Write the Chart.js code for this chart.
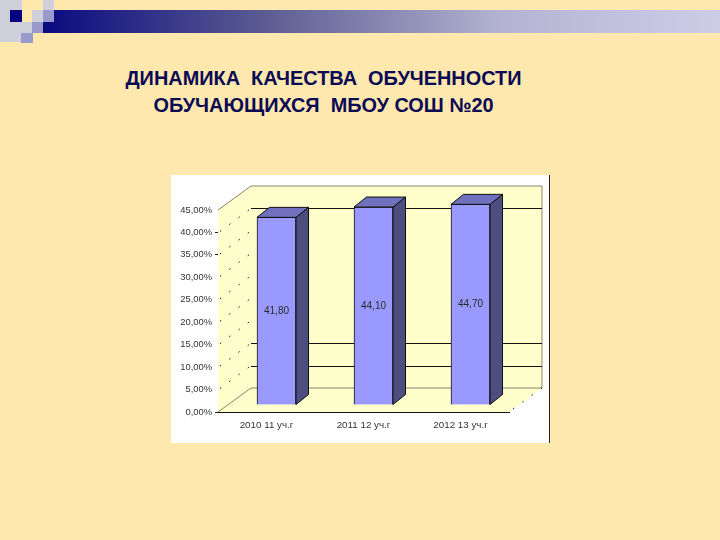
<!DOCTYPE html>
<html>
<head>
<meta charset="utf-8">
<title>Динамика качества обученности</title>
<script src="https://cdn.jsdelivr.net/npm/chart.js@4"></script>
<style>
  html, body { margin: 0; padding: 0; width: 720px; height: 540px; overflow: hidden; background: #FFE8AD; }
  .sq, #band, #title, #box { position: absolute; }
  #band { left: 43px; top: 10px; width: 677px; height: 23px; background: linear-gradient(to right, #0a0a80, #5c5c92 33%, #b4b4d2 68%, #cdcde8); }
  #title { left: 0; width: 647px; top: 65px; text-align: center; font: bold 19.9px/27px "Liberation Sans", Arial, sans-serif; color: #0a0a55; white-space: pre; }
  #box { left: 171px; top: 175px; width: 378px; height: 268px; background: #fff; border-right: 1px solid #222; }
  canvas { display: block; }
</style>
</head>
<body>
<div id="band"></div>
<div class="sq" style="left:0;top:0;width:22px;height:33px;background:#d0d0dc"></div>
<div class="sq" style="left:0;top:33px;width:21px;height:9px;background:#d0d0dc"></div>
<div class="sq" style="left:10px;top:10px;width:12px;height:12px;background:#000080"></div>
<div class="sq" style="left:43px;top:0;width:11px;height:10px;background:#d0d0dc"></div>
<div class="sq" style="left:32px;top:10px;width:11px;height:12px;background:#d0d0dc"></div>
<div class="sq" style="left:43px;top:10px;width:11px;height:12px;background:#9999cc"></div>
<div class="sq" style="left:22px;top:22px;width:10px;height:11px;background:#d0d0dc"></div>
<div class="sq" style="left:32px;top:22px;width:11px;height:11px;background:#9999cc"></div>
<div class="sq" style="left:21px;top:33px;width:12px;height:10px;background:#9999cc"></div>
<div id="title">ДИНАМИКА  КАЧЕСТВА  ОБУЧЕННОСТИ
ОБУЧАЮЩИХСЯ  МБОУ СОШ №20</div>
<div id="box"><canvas id="qualityChart" width="379" height="268"></canvas></div>
<script>
const categories = ['2010 11 уч.г', '2011 12 уч.г', '2012 13 уч.г'];
const qualityValues = [41.8, 44.1, 44.7];
const tickValues = [0, 5, 10, 15, 20, 25, 30, 35, 40, 45];
const wallLines = [5, 10, 40];
const markedTicks = [0, 35, 40];

// 3d look: how far the wall and the bars sit behind the front plane
const wall = { dx: 33, dy: -24 };
const barShift = { dx: 10, dy: -7 };
const barDepth = { dx: 12.5, dy: -10 };

const commaFmt = (v, digits) => v.toFixed(digits).replace('.', ',');

function poly(ctx, pts, fill, stroke) {
  ctx.beginPath();
  pts.forEach((p, i) => i ? ctx.lineTo(p[0], p[1]) : ctx.moveTo(p[0], p[1]));
  ctx.closePath();
  if (fill) { ctx.fillStyle = fill; ctx.fill(); }
  if (stroke) { ctx.strokeStyle = stroke; ctx.lineWidth = 1; ctx.stroke(); }
}

const wallPlugin = {
  id: 'wall',
  beforeDatasetsDraw(chart) {
    const ctx = chart.ctx;
    const y = chart.scales.y;
    const l = chart.chartArea.left, r = chart.chartArea.right;
    const y0 = y.getPixelForValue(0), yTop = y.getPixelForValue(45);
    const bl = l + wall.dx, br = r + wall.dx;

    ctx.save();
    poly(ctx, [[l, y0], [bl, y0 + wall.dy], [bl, yTop + wall.dy], [l, yTop]], '#FFFFCC');
    poly(ctx, [[bl, yTop + wall.dy], [br, yTop + wall.dy], [br, y0 + wall.dy], [bl, y0 + wall.dy]], '#FFFFCC');
    poly(ctx, [[l, y0], [bl, y0 + wall.dy], [br, y0 + wall.dy], [r, y0]], '#FFFFCC');

    // grey outline of the walls
    ctx.strokeStyle = '#85856b';
    ctx.lineWidth = 1;
    ctx.beginPath();
    ctx.moveTo(l, yTop);
    ctx.lineTo(bl, yTop + wall.dy);
    ctx.lineTo(br, yTop + wall.dy);
    ctx.lineTo(br, y0 + wall.dy);
    ctx.lineTo(bl, y0 + wall.dy);
    ctx.lineTo(l, y0);
    ctx.stroke();

    // gridlines on the back wall
    ctx.strokeStyle = '#111';
    wallLines.forEach(v => {
      const py = Math.round(y.getPixelForValue(v) + wall.dy) + 0.5;
      ctx.beginPath();
      ctx.moveTo(bl, py);
      ctx.lineTo(br, py);
      ctx.stroke();
    });

    // dotted gridlines on the side wall and floor edge
    ctx.setLineDash([1.5, 10]);
    ctx.strokeStyle = '#111';
    tickValues.slice(1, -1).forEach(v => {
      const py = y.getPixelForValue(v);
      ctx.beginPath();
      ctx.moveTo(l + 2, py - 1);
      ctx.lineTo(bl, py + wall.dy);
      ctx.stroke();
    });
    ctx.beginPath();
    ctx.moveTo(r + 4, y0 - 3);
    ctx.lineTo(br, y0 + wall.dy);
    ctx.stroke();
    ctx.restore();
  },
  beforeDatasetDraw(chart) {
    chart.ctx.save();
    chart.ctx.translate(barShift.dx, barShift.dy);
  },
  afterDatasetDraw(chart, args) {
    const ctx = chart.ctx;
    const bars = args.meta.data;
    const d = barDepth;
    bars.forEach((bar, i) => {
      const x1 = bar.x - bar.width / 2, x2 = bar.x + bar.width / 2;
      poly(ctx, [[x2, bar.y], [x2 + d.dx, bar.y + d.dy], [x2 + d.dx, bar.base + d.dy], [x2, bar.base]], '#4D4D80', '#111');
      poly(ctx, [[x1, bar.y], [x1 + d.dx, bar.y + d.dy], [x2 + d.dx, bar.y + d.dy], [x2, bar.y]], '#7070BE', '#111');
      ctx.fillStyle = '#2a2a2a';
      ctx.font = '10px "Liberation Sans", Arial, sans-serif';
      ctx.textAlign = 'center';
      ctx.textBaseline = 'middle';
      ctx.fillText(commaFmt(qualityValues[i], 2), bar.x, (bar.y + bar.base) / 2);
    });
    ctx.restore();
  }
};

new Chart(document.getElementById('qualityChart').getContext('2d'), {
  type: 'bar',
  data: {
    labels: categories,
    datasets: [{
      data: qualityValues,
      backgroundColor: '#9999FF',
      borderColor: '#111',
      borderWidth: { top: 1, left: 1, right: 1, bottom: 0 },
      borderSkipped: false,
      barThickness: 39,
      clip: false
    }]
  },
  options: {
    responsive: false,
    animation: false,
    devicePixelRatio: 1,
    layout: { padding: { top: 35, right: 41, left: 0, bottom: 0 } },
    plugins: { legend: { display: false }, tooltip: { enabled: false }, title: { display: false } },
    scales: {
      x: {
        grid: { display: false },
        border: { color: '#111', width: 1 },
        ticks: { color: '#333', maxRotation: 0, autoSkip: false, padding: -1, font: { family: '"Liberation Sans", Arial, sans-serif', size: 9.8 } },
        afterFit: s => { s.height = 31; }
      },
      y: {
        min: 0,
        max: 45,
        afterBuildTicks: s => { s.ticks = tickValues.map(v => ({ value: v })); },
        border: { display: false },
        grid: {
          drawOnChartArea: false,
          tickLength: 3,
          tickColor: c => markedTicks.includes(c.tick.value) ? '#222' : 'rgba(0,0,0,0)'
        },
        ticks: {
          color: '#333',
          padding: 3,
          font: { family: '"Liberation Sans", Arial, sans-serif', size: 9.4 },
          callback: v => commaFmt(v, 2) + '%'
        },
        afterFit: s => { s.width = 47; }
      }
    }
  },
  plugins: [wallPlugin]
});
</script>
</body>
</html>
